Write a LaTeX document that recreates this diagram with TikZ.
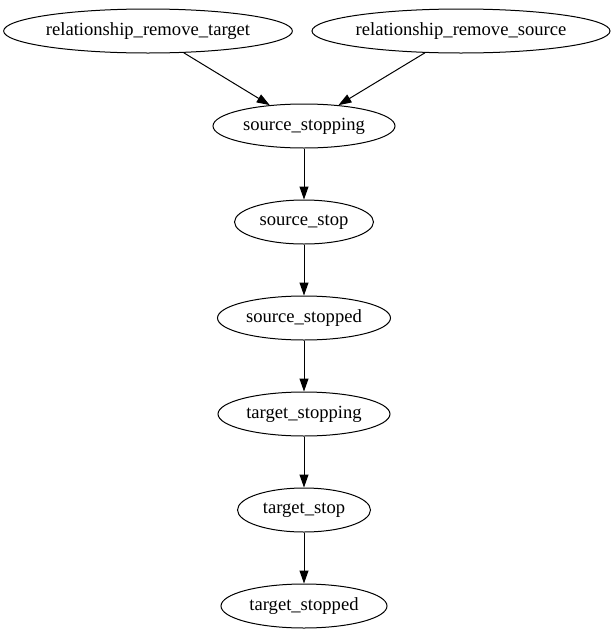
\documentclass[tikz,border=0pt]{standalone}
\usepackage{fontspec}
\setmainfont{Liberation Serif}
\usetikzlibrary{shapes.geometric, arrows.meta}

\begin{document}
\begin{tikzpicture}[x=1pt, y=-1pt, line width=1pt,
  state/.style={draw, ellipse, inner sep=0pt, minimum height=44pt, font=\fontsize{18.6}{20}\selectfont},
  flow/.style={-{Triangle[length=13pt, width=9pt]}}]
\useasboundingbox (0,0) rectangle (614,635);

\node[state, minimum width=286pt] (rmtarget) at (148,31) {relationship\_remove\_target};
\node[state, minimum width=291pt] (rmsource) at (461,31) {relationship\_remove\_source};
\node[state, minimum width=182pt] (srcstopping) at (304,126) {source\_stopping};
\node[state, minimum width=139pt] (srcstop) at (304,222) {source\_stop};
\node[state, minimum width=173pt] (srcstopped) at (304,318) {source\_stopped};
\node[state, minimum width=172pt] (tgtstopping) at (304,414) {target\_stopping};
\node[state, minimum width=133pt] (tgtstop) at (304,510) {target\_stop};
\node[state, minimum width=166pt] (tgtstopped) at (304,606) {target\_stopped};

\draw[flow] (rmtarget) -- (srcstopping);
\draw[flow] (rmsource) -- (srcstopping);
\draw[flow] (srcstopping) -- (srcstop);
\draw[flow] (srcstop) -- (srcstopped);
\draw[flow] (srcstopped) -- (tgtstopping);
\draw[flow] (tgtstopping) -- (tgtstop);
\draw[flow] (tgtstop) -- (tgtstopped);

\end{tikzpicture}
\end{document}
